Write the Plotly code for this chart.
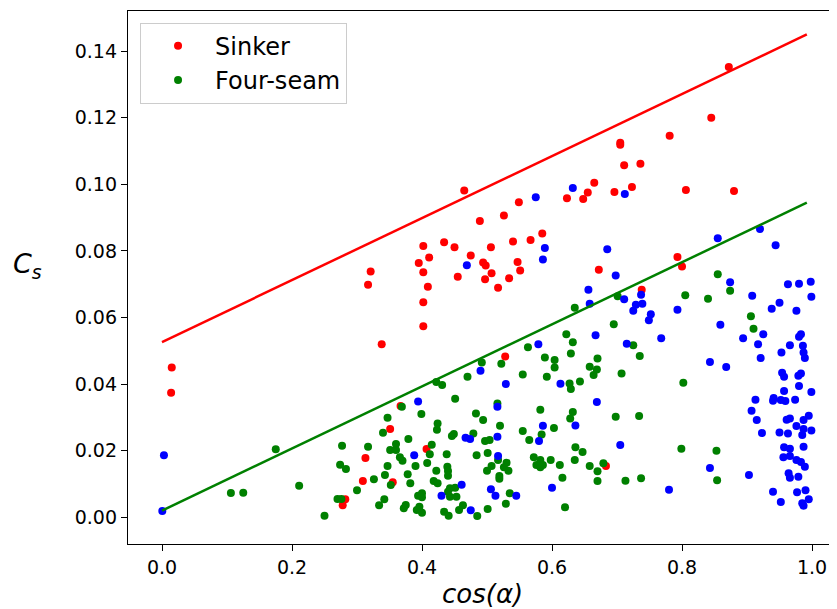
import plotly.graph_objects as go

# ---- data ----
sinker_x = [0.015, 0.014, 0.872, 0.845, 0.781, 0.705, 0.705, 0.711, 0.736, 0.665,
            0.723, 0.806, 0.880, 0.696, 0.655, 0.465, 0.549, 0.526, 0.489, 0.623,
            0.648, 0.585, 0.567, 0.540, 0.402, 0.434, 0.450, 0.506, 0.411, 0.395,
            0.402, 0.475, 0.494, 0.498, 0.547, 0.551, 0.507, 0.455, 0.497, 0.534,
            0.517, 0.409, 0.321, 0.317, 0.402, 0.402, 0.338, 0.672, 0.793, 0.800,
            0.738, 0.528, 0.683, 0.367, 0.351, 0.407, 0.313, 0.309, 0.355, 0.282,
            0.278]
sinker_y = [0.0450, 0.0374, 0.1352, 0.1200, 0.1146, 0.1125, 0.1119, 0.1057, 0.1062, 0.1005,
            0.0992, 0.0983, 0.0980, 0.0977, 0.0975, 0.0981, 0.0946, 0.0906, 0.0890, 0.0958,
            0.0956, 0.0852, 0.0833, 0.0828, 0.0815, 0.0826, 0.0811, 0.0811, 0.0780, 0.0764,
            0.0736, 0.0786, 0.0765, 0.0756, 0.0767, 0.0741, 0.0733, 0.0722, 0.0715, 0.0718,
            0.0689, 0.0692, 0.0738, 0.0698, 0.0646, 0.0574, 0.0520, 0.0743, 0.0782, 0.0753,
            0.0683, 0.0483, 0.0154, 0.0334, 0.0265, 0.0205, 0.0178, 0.0109, 0.0105, 0.0054,
            0.0036]

fourseam_x = [0.175, 0.106, 0.125, 0.211, 0.250, 0.277, 0.274, 0.283, 0.317, 0.300,
              0.270, 0.276, 0.635, 0.622, 0.632, 0.563, 0.855, 0.874, 0.805, 0.840,
              0.701, 0.906, 0.910, 0.695, 0.725, 0.735, 0.670, 0.658, 0.669, 0.664,
              0.707, 0.802, 0.698, 0.734, 0.799, 0.853, 0.679, 0.658, 0.670, 0.670,
              0.713, 0.737, 0.854, 0.589, 0.604, 0.629, 0.604, 0.555, 0.592, 0.627,
              0.629, 0.643, 0.522, 0.492, 0.470, 0.422, 0.431, 0.451, 0.369, 0.399,
              0.347, 0.424, 0.423, 0.340, 0.379, 0.360, 0.351, 0.360, 0.415, 0.412,
              0.438, 0.366, 0.370, 0.347, 0.390, 0.408, 0.422, 0.439, 0.440, 0.440,
              0.343, 0.378, 0.326, 0.352, 0.382, 0.418, 0.424, 0.400, 0.394, 0.400,
              0.443, 0.440, 0.451, 0.443, 0.453, 0.342, 0.334, 0.375, 0.372, 0.396,
              0.392, 0.400, 0.434, 0.441, 0.463, 0.457, 0.485, 0.501, 0.535, 0.529,
              0.479, 0.446, 0.449, 0.483, 0.494, 0.516, 0.520, 0.497, 0.504, 0.484,
              0.501, 0.517, 0.507, 0.500, 0.526, 0.530, 0.533, 0.519, 0.519, 0.555,
              0.565, 0.584, 0.582, 0.603, 0.572, 0.582, 0.576, 0.586, 0.582, 0.598,
              0.612, 0.616, 0.620, 0.636, 0.647, 0.635, 0.628, 0.632]
fourseam_y = [0.0204, 0.0073, 0.0074, 0.0095, 0.0005, 0.0215, 0.0158, 0.0145, 0.0212, 0.0081,
              0.0055, 0.0055, 0.0629, 0.0550, 0.0526, 0.0511, 0.0730, 0.0680, 0.0667, 0.0656,
              0.0664, 0.0604, 0.0566, 0.0580, 0.0517, 0.0484, 0.0477, 0.0452, 0.0444, 0.0427,
              0.0432, 0.0404, 0.0302, 0.0304, 0.0206, 0.0200, 0.0162, 0.0154, 0.0138, 0.0109,
              0.0110, 0.0117, 0.0111, 0.0480, 0.0472, 0.0492, 0.0450, 0.0429, 0.0422, 0.0402,
              0.0385, 0.0408, 0.0461, 0.0465, 0.0422, 0.0406, 0.0397, 0.0356, 0.0332, 0.0310,
              0.0299, 0.0282, 0.0263, 0.0254, 0.0235, 0.0220, 0.0202, 0.0202, 0.0218, 0.0189,
              0.0189, 0.0180, 0.0170, 0.0154, 0.0154, 0.0163, 0.0140, 0.0152, 0.0139, 0.0125,
              0.0127, 0.0129, 0.0114, 0.0097, 0.0102, 0.0109, 0.0102, 0.0072, 0.0065, 0.0060,
              0.0087, 0.0077, 0.0089, 0.0062, 0.0062, 0.0054, 0.0036, 0.0037, 0.0027, 0.0032,
              0.0022, 0.0014, 0.0017, 0.0005, 0.0036, 0.0022, 0.0004, 0.0025, 0.0072, 0.0041,
              0.0252, 0.0244, 0.0250, 0.0312, 0.0292, 0.0342, 0.0275, 0.0229, 0.0232, 0.0186,
              0.0193, 0.0172, 0.0154, 0.0140, 0.0150, 0.0164, 0.0140, 0.0124, 0.0116, 0.0259,
              0.0232, 0.0249, 0.0323, 0.0268, 0.0180, 0.0172, 0.0157, 0.0157, 0.0150, 0.0172,
              0.0157, 0.0119, 0.0030, 0.0210, 0.0196, 0.0172, 0.0297, 0.0316]

other_x = [0.003, 0.0005, 0.575, 0.632, 0.712, 0.589, 0.586, 0.469, 0.656, 0.658,
           0.667, 0.579, 0.920, 0.944, 0.855, 0.685, 0.698, 0.874, 0.737, 0.711,
           0.729, 0.739, 0.725, 0.752, 0.749, 0.793, 0.908, 0.963, 0.980, 0.998,
           0.999, 0.950, 0.938, 0.976, 0.925, 0.894, 0.917, 0.859, 0.715, 0.768,
           0.980, 0.983, 0.966, 0.986, 0.953, 0.987, 0.989, 0.921, 0.843, 0.868,
           0.954, 0.957, 0.979, 0.983, 0.980, 0.957, 0.999, 0.913, 0.941, 0.940,
           0.952, 0.959, 0.974, 0.669, 0.907, 0.915, 0.961, 0.966, 0.995, 0.987,
           0.976, 0.987, 0.999, 0.923, 0.950, 0.963, 0.985, 0.705, 0.957, 0.966,
           0.987, 0.956, 0.966, 0.976, 0.983, 0.989, 0.843, 0.903, 0.780, 0.964,
           0.966, 0.979, 0.940, 0.952, 0.977, 0.990, 0.985, 0.987, 0.995, 0.613,
           0.490, 0.529, 0.394, 0.388, 0.461, 0.430, 0.475, 0.506, 0.513, 0.545,
           0.467, 0.474, 0.516, 0.516, 0.517, 0.580, 0.586, 0.600, 0.636]
other_y = [0.0186, 0.0019, 0.0961, 0.0989, 0.0971, 0.0809, 0.0774, 0.0757, 0.0683, 0.0641,
           0.0547, 0.0520, 0.0866, 0.0817, 0.0838, 0.0805, 0.0726, 0.0706, 0.0668, 0.0655,
           0.0638, 0.0641, 0.0620, 0.0610, 0.0592, 0.0623, 0.0665, 0.0700, 0.0701, 0.0707,
           0.0662, 0.0644, 0.0626, 0.0620, 0.0550, 0.0538, 0.0520, 0.0578, 0.0521, 0.0538,
           0.0542, 0.0550, 0.0517, 0.0515, 0.0495, 0.0495, 0.0478, 0.0478, 0.0466, 0.0451,
           0.0434, 0.0422, 0.0425, 0.0432, 0.0394, 0.0379, 0.0376, 0.0353, 0.0358, 0.0350,
           0.0352, 0.0349, 0.0353, 0.0346, 0.0320, 0.0292, 0.0293, 0.0297, 0.0305, 0.0292,
           0.0274, 0.0265, 0.0261, 0.0253, 0.0255, 0.0252, 0.0247, 0.0217, 0.0210, 0.0206,
           0.0212, 0.0180, 0.0184, 0.0172, 0.0166, 0.0152, 0.0148, 0.0127, 0.0083, 0.0132,
           0.0119, 0.0122, 0.0077, 0.0046, 0.0075, 0.0081, 0.0042, 0.0035, 0.0054, 0.0401,
           0.0440, 0.0400, 0.0348, 0.0186, 0.0098, 0.0065, 0.0021, 0.0084, 0.0065, 0.0065,
           0.0239, 0.0235, 0.0332, 0.0242, 0.0184, 0.0229, 0.0275, 0.0089, 0.0276]

line_x = [0.0, 0.992]
sinker_line_y = [0.0526, 0.1450]
fourseam_line_y = [0.0020, 0.0945]

x_ticks = [0.0, 0.2, 0.4, 0.6, 0.8, 1.0]
x_ticklabels = ["0.0", "0.2", "0.4", "0.6", "0.8", "1.0"]
y_ticks = [0.00, 0.02, 0.04, 0.06, 0.08, 0.10, 0.12, 0.14]
y_ticklabels = ["0.00", "0.02", "0.04", "0.06", "0.08", "0.10", "0.12", "0.14"]

RED = "#ff0000"
GREEN = "#008000"
BLUE = "#0000ff"
FONT = "DejaVu Sans"

fig = go.Figure()
fig.add_trace(go.Scatter(x=sinker_x, y=sinker_y, mode="markers", name="Sinker",
                         marker=dict(color=RED, size=8, line=dict(width=0))))
fig.add_trace(go.Scatter(x=fourseam_x, y=fourseam_y, mode="markers", name="Four-seam",
                         marker=dict(color=GREEN, size=8, line=dict(width=0))))
fig.add_trace(go.Scatter(x=other_x, y=other_y, mode="markers", name="Other",
                         showlegend=False,
                         marker=dict(color=BLUE, size=8, line=dict(width=0))))
fig.add_trace(go.Scatter(x=line_x, y=sinker_line_y, mode="lines", showlegend=False,
                         line=dict(color=RED, width=2.5)))
fig.add_trace(go.Scatter(x=line_x, y=fourseam_line_y, mode="lines", showlegend=False,
                         line=dict(color=GREEN, width=2.5)))

axis_common = dict(showline=True, linecolor="black", linewidth=1.3, mirror=True,
                   ticks="outside", ticklen=6, tickwidth=1.3, tickcolor="black",
                   showgrid=False, zeroline=False,
                   tickfont=dict(family=FONT, size=19, color="black"))

fig.update_xaxes(range=[-0.0523, 1.0369], tickvals=x_ticks, ticktext=x_ticklabels,
                 **axis_common)
fig.update_yaxes(range=[-0.00802, 0.15204], tickvals=y_ticks, ticktext=y_ticklabels,
                 **axis_common)

# the page body adds an 8px offset, so the figure is sized to fit the 837x609 window
fig.update_layout(
    width=829, height=601,
    margin=dict(l=120, r=1, t=3, b=65),
    plot_bgcolor="white", paper_bgcolor="white",
    font=dict(family=FONT, color="black"),
    legend=dict(x=0.017, y=0.978, xanchor="left", yanchor="top",
                bgcolor="rgba(255,255,255,0.8)", bordercolor="#cccccc", borderwidth=1,
                font=dict(family=FONT, size=24, color="black"),
                itemwidth=64, tracegroupgap=0),
    annotations=[
        dict(text="<i>cos(α)</i>", xref="paper", yref="paper", x=0.5, y=0,
             xanchor="center", yanchor="middle", yshift=-50, showarrow=False,
             font=dict(family=FONT, size=26, color="black")),
        dict(text="<i>C</i><sub><i>s</i></sub>", xref="paper", yref="paper", x=0, y=0.5,
             xanchor="center", yanchor="middle", xshift=-101, yshift=12, showarrow=False,
             font=dict(family=FONT, size=27, color="black")),
    ],
)

fig.write_html("out.html")
